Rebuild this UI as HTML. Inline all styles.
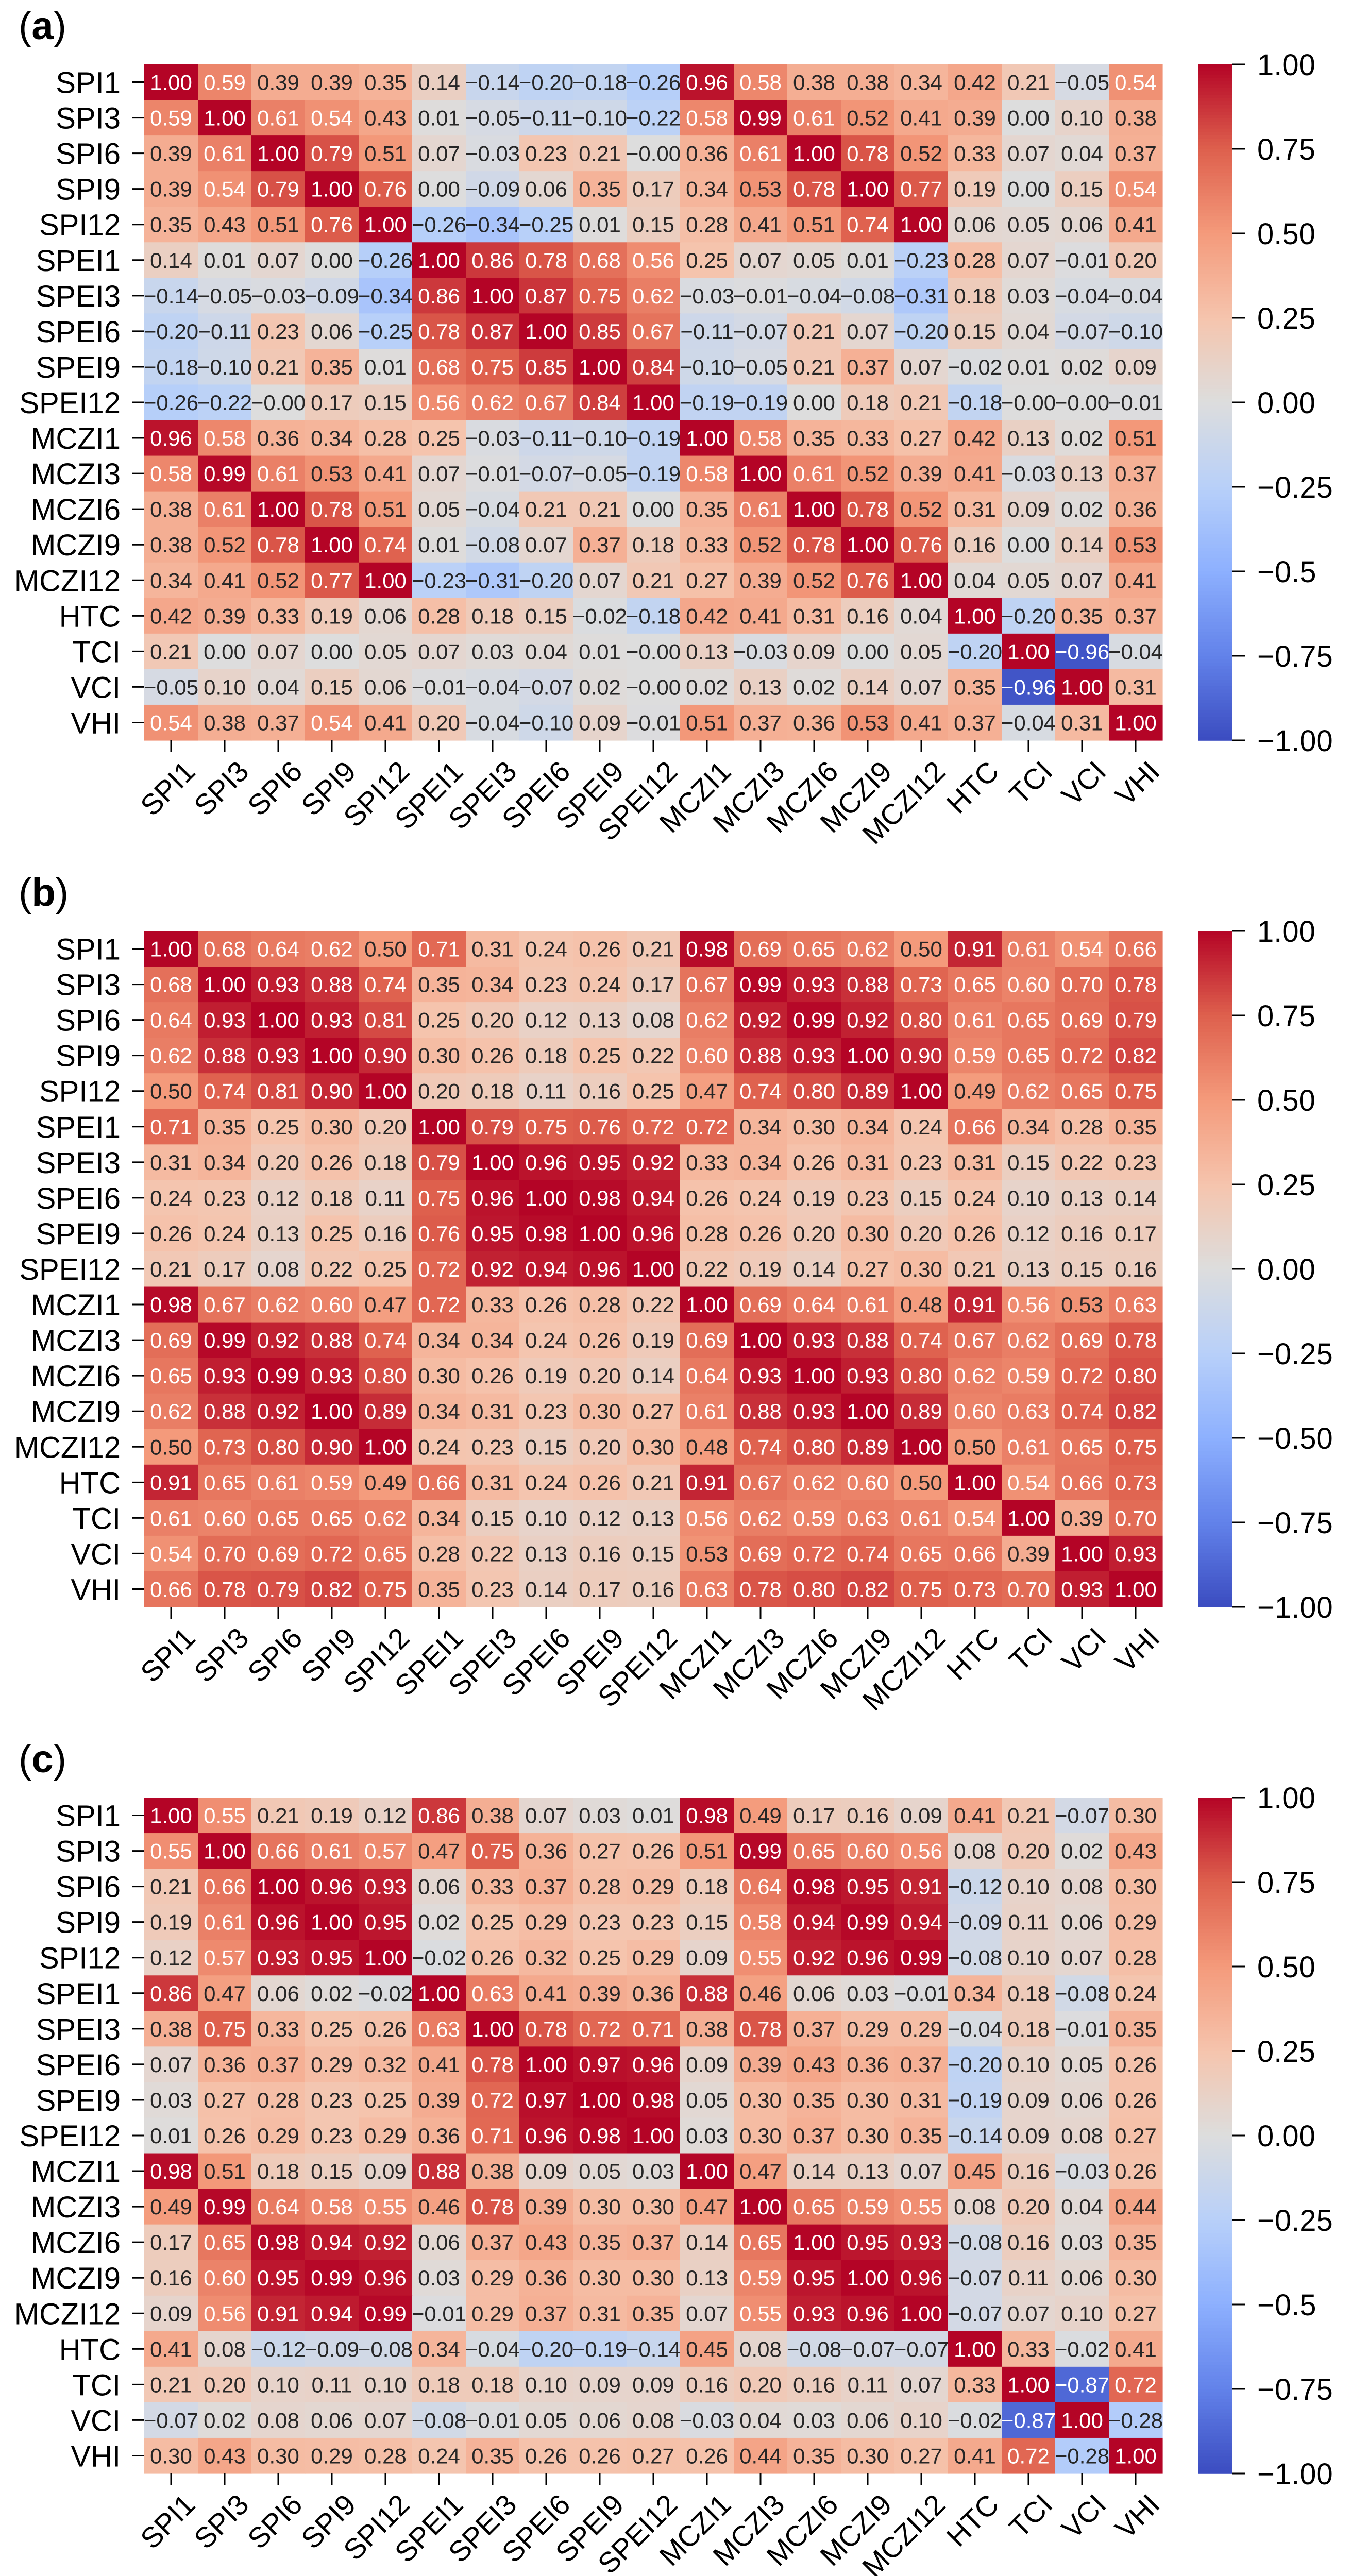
<!DOCTYPE html>
<html><head><meta charset="utf-8"><style>
html,body{margin:0;padding:0;background:#fff;width:2622px;height:5033px;overflow:hidden;}
svg{display:block;overflow:hidden;}
</style></head><body>
<svg id="fig" width="2622" height="5033" viewBox="0 0 2622 5033" xmlns="http://www.w3.org/2000/svg" font-family="'Liberation Sans', sans-serif"></svg>
<script>
const labels = ["SPI1","SPI3","SPI6","SPI9","SPI12","SPEI1","SPEI3","SPEI6","SPEI9","SPEI12","MCZI1","MCZI3","MCZI6","MCZI9","MCZI12","HTC","TCI","VCI","VHI"];
const panelNames = ["a","b","c"];
const cbarTicksA = ["1.00","0.75","0.50","0.25","0.00","\u22120.25","\u22120.5","\u22120.75","\u22121.00"];
const cbarTicksB = ["1.00","0.75","0.50","0.25","0.00","\u22120.25","\u22120.50","\u22120.75","\u22121.00"];
const cbarTicksC = ["1.00","0.75","0.50","0.25","0.00","\u22120.25","\u22120.5","\u22120.75","\u22121.00"];
const cbarValues = [1,0.75,0.5,0.25,0,-0.25,-0.5,-0.75,-1];

const matrixA = [
[1.00,0.59,0.39,0.39,0.35,0.14,-0.14,-0.20,-0.18,-0.26,0.96,0.58,0.38,0.38,0.34,0.42,0.21,-0.05,0.54],
[0.59,1.00,0.61,0.54,0.43,0.01,-0.05,-0.11,-0.10,-0.22,0.58,0.99,0.61,0.52,0.41,0.39,0.00,0.10,0.38],
[0.39,0.61,1.00,0.79,0.51,0.07,-0.03,0.23,0.21,-0.00,0.36,0.61,1.00,0.78,0.52,0.33,0.07,0.04,0.37],
[0.39,0.54,0.79,1.00,0.76,0.00,-0.09,0.06,0.35,0.17,0.34,0.53,0.78,1.00,0.77,0.19,0.00,0.15,0.54],
[0.35,0.43,0.51,0.76,1.00,-0.26,-0.34,-0.25,0.01,0.15,0.28,0.41,0.51,0.74,1.00,0.06,0.05,0.06,0.41],
[0.14,0.01,0.07,0.00,-0.26,1.00,0.86,0.78,0.68,0.56,0.25,0.07,0.05,0.01,-0.23,0.28,0.07,-0.01,0.20],
[-0.14,-0.05,-0.03,-0.09,-0.34,0.86,1.00,0.87,0.75,0.62,-0.03,-0.01,-0.04,-0.08,-0.31,0.18,0.03,-0.04,-0.04],
[-0.20,-0.11,0.23,0.06,-0.25,0.78,0.87,1.00,0.85,0.67,-0.11,-0.07,0.21,0.07,-0.20,0.15,0.04,-0.07,-0.10],
[-0.18,-0.10,0.21,0.35,0.01,0.68,0.75,0.85,1.00,0.84,-0.10,-0.05,0.21,0.37,0.07,-0.02,0.01,0.02,0.09],
[-0.26,-0.22,-0.00,0.17,0.15,0.56,0.62,0.67,0.84,1.00,-0.19,-0.19,0.00,0.18,0.21,-0.18,-0.00,-0.00,-0.01],
[0.96,0.58,0.36,0.34,0.28,0.25,-0.03,-0.11,-0.10,-0.19,1.00,0.58,0.35,0.33,0.27,0.42,0.13,0.02,0.51],
[0.58,0.99,0.61,0.53,0.41,0.07,-0.01,-0.07,-0.05,-0.19,0.58,1.00,0.61,0.52,0.39,0.41,-0.03,0.13,0.37],
[0.38,0.61,1.00,0.78,0.51,0.05,-0.04,0.21,0.21,0.00,0.35,0.61,1.00,0.78,0.52,0.31,0.09,0.02,0.36],
[0.38,0.52,0.78,1.00,0.74,0.01,-0.08,0.07,0.37,0.18,0.33,0.52,0.78,1.00,0.76,0.16,0.00,0.14,0.53],
[0.34,0.41,0.52,0.77,1.00,-0.23,-0.31,-0.20,0.07,0.21,0.27,0.39,0.52,0.76,1.00,0.04,0.05,0.07,0.41],
[0.42,0.39,0.33,0.19,0.06,0.28,0.18,0.15,-0.02,-0.18,0.42,0.41,0.31,0.16,0.04,1.00,-0.20,0.35,0.37],
[0.21,0.00,0.07,0.00,0.05,0.07,0.03,0.04,0.01,-0.00,0.13,-0.03,0.09,0.00,0.05,-0.20,1.00,-0.96,-0.04],
[-0.05,0.10,0.04,0.15,0.06,-0.01,-0.04,-0.07,0.02,-0.00,0.02,0.13,0.02,0.14,0.07,0.35,-0.96,1.00,0.31],
[0.54,0.38,0.37,0.54,0.41,0.20,-0.04,-0.10,0.09,-0.01,0.51,0.37,0.36,0.53,0.41,0.37,-0.04,0.31,1.00]];

const matrixB = [
[1.00,0.68,0.64,0.62,0.50,0.71,0.31,0.24,0.26,0.21,0.98,0.69,0.65,0.62,0.50,0.91,0.61,0.54,0.66],
[0.68,1.00,0.93,0.88,0.74,0.35,0.34,0.23,0.24,0.17,0.67,0.99,0.93,0.88,0.73,0.65,0.60,0.70,0.78],
[0.64,0.93,1.00,0.93,0.81,0.25,0.20,0.12,0.13,0.08,0.62,0.92,0.99,0.92,0.80,0.61,0.65,0.69,0.79],
[0.62,0.88,0.93,1.00,0.90,0.30,0.26,0.18,0.25,0.22,0.60,0.88,0.93,1.00,0.90,0.59,0.65,0.72,0.82],
[0.50,0.74,0.81,0.90,1.00,0.20,0.18,0.11,0.16,0.25,0.47,0.74,0.80,0.89,1.00,0.49,0.62,0.65,0.75],
[0.71,0.35,0.25,0.30,0.20,1.00,0.79,0.75,0.76,0.72,0.72,0.34,0.30,0.34,0.24,0.66,0.34,0.28,0.35],
[0.31,0.34,0.20,0.26,0.18,0.79,1.00,0.96,0.95,0.92,0.33,0.34,0.26,0.31,0.23,0.31,0.15,0.22,0.23],
[0.24,0.23,0.12,0.18,0.11,0.75,0.96,1.00,0.98,0.94,0.26,0.24,0.19,0.23,0.15,0.24,0.10,0.13,0.14],
[0.26,0.24,0.13,0.25,0.16,0.76,0.95,0.98,1.00,0.96,0.28,0.26,0.20,0.30,0.20,0.26,0.12,0.16,0.17],
[0.21,0.17,0.08,0.22,0.25,0.72,0.92,0.94,0.96,1.00,0.22,0.19,0.14,0.27,0.30,0.21,0.13,0.15,0.16],
[0.98,0.67,0.62,0.60,0.47,0.72,0.33,0.26,0.28,0.22,1.00,0.69,0.64,0.61,0.48,0.91,0.56,0.53,0.63],
[0.69,0.99,0.92,0.88,0.74,0.34,0.34,0.24,0.26,0.19,0.69,1.00,0.93,0.88,0.74,0.67,0.62,0.69,0.78],
[0.65,0.93,0.99,0.93,0.80,0.30,0.26,0.19,0.20,0.14,0.64,0.93,1.00,0.93,0.80,0.62,0.59,0.72,0.80],
[0.62,0.88,0.92,1.00,0.89,0.34,0.31,0.23,0.30,0.27,0.61,0.88,0.93,1.00,0.89,0.60,0.63,0.74,0.82],
[0.50,0.73,0.80,0.90,1.00,0.24,0.23,0.15,0.20,0.30,0.48,0.74,0.80,0.89,1.00,0.50,0.61,0.65,0.75],
[0.91,0.65,0.61,0.59,0.49,0.66,0.31,0.24,0.26,0.21,0.91,0.67,0.62,0.60,0.50,1.00,0.54,0.66,0.73],
[0.61,0.60,0.65,0.65,0.62,0.34,0.15,0.10,0.12,0.13,0.56,0.62,0.59,0.63,0.61,0.54,1.00,0.39,0.70],
[0.54,0.70,0.69,0.72,0.65,0.28,0.22,0.13,0.16,0.15,0.53,0.69,0.72,0.74,0.65,0.66,0.39,1.00,0.93],
[0.66,0.78,0.79,0.82,0.75,0.35,0.23,0.14,0.17,0.16,0.63,0.78,0.80,0.82,0.75,0.73,0.70,0.93,1.00]];

const matrixC = [
[1.00,0.55,0.21,0.19,0.12,0.86,0.38,0.07,0.03,0.01,0.98,0.49,0.17,0.16,0.09,0.41,0.21,-0.07,0.30],
[0.55,1.00,0.66,0.61,0.57,0.47,0.75,0.36,0.27,0.26,0.51,0.99,0.65,0.60,0.56,0.08,0.20,0.02,0.43],
[0.21,0.66,1.00,0.96,0.93,0.06,0.33,0.37,0.28,0.29,0.18,0.64,0.98,0.95,0.91,-0.12,0.10,0.08,0.30],
[0.19,0.61,0.96,1.00,0.95,0.02,0.25,0.29,0.23,0.23,0.15,0.58,0.94,0.99,0.94,-0.09,0.11,0.06,0.29],
[0.12,0.57,0.93,0.95,1.00,-0.02,0.26,0.32,0.25,0.29,0.09,0.55,0.92,0.96,0.99,-0.08,0.10,0.07,0.28],
[0.86,0.47,0.06,0.02,-0.02,1.00,0.63,0.41,0.39,0.36,0.88,0.46,0.06,0.03,-0.01,0.34,0.18,-0.08,0.24],
[0.38,0.75,0.33,0.25,0.26,0.63,1.00,0.78,0.72,0.71,0.38,0.78,0.37,0.29,0.29,-0.04,0.18,-0.01,0.35],
[0.07,0.36,0.37,0.29,0.32,0.41,0.78,1.00,0.97,0.96,0.09,0.39,0.43,0.36,0.37,-0.20,0.10,0.05,0.26],
[0.03,0.27,0.28,0.23,0.25,0.39,0.72,0.97,1.00,0.98,0.05,0.30,0.35,0.30,0.31,-0.19,0.09,0.06,0.26],
[0.01,0.26,0.29,0.23,0.29,0.36,0.71,0.96,0.98,1.00,0.03,0.30,0.37,0.30,0.35,-0.14,0.09,0.08,0.27],
[0.98,0.51,0.18,0.15,0.09,0.88,0.38,0.09,0.05,0.03,1.00,0.47,0.14,0.13,0.07,0.45,0.16,-0.03,0.26],
[0.49,0.99,0.64,0.58,0.55,0.46,0.78,0.39,0.30,0.30,0.47,1.00,0.65,0.59,0.55,0.08,0.20,0.04,0.44],
[0.17,0.65,0.98,0.94,0.92,0.06,0.37,0.43,0.35,0.37,0.14,0.65,1.00,0.95,0.93,-0.08,0.16,0.03,0.35],
[0.16,0.60,0.95,0.99,0.96,0.03,0.29,0.36,0.30,0.30,0.13,0.59,0.95,1.00,0.96,-0.07,0.11,0.06,0.30],
[0.09,0.56,0.91,0.94,0.99,-0.01,0.29,0.37,0.31,0.35,0.07,0.55,0.93,0.96,1.00,-0.07,0.07,0.10,0.27],
[0.41,0.08,-0.12,-0.09,-0.08,0.34,-0.04,-0.20,-0.19,-0.14,0.45,0.08,-0.08,-0.07,-0.07,1.00,0.33,-0.02,0.41],
[0.21,0.20,0.10,0.11,0.10,0.18,0.18,0.10,0.09,0.09,0.16,0.20,0.16,0.11,0.07,0.33,1.00,-0.87,0.72],
[-0.07,0.02,0.08,0.06,0.07,-0.08,-0.01,0.05,0.06,0.08,-0.03,0.04,0.03,0.06,0.10,-0.02,-0.87,1.00,-0.28],
[0.30,0.43,0.30,0.29,0.28,0.24,0.35,0.26,0.26,0.27,0.26,0.44,0.35,0.30,0.27,0.41,0.72,-0.28,1.00]];

const NS = "http://www.w3.org/2000/svg";
const svg = document.getElementById("fig");
const stops = [[59,76,192],[98,130,234],[141,176,254],[184,208,249],[221,221,221],[245,196,173],[244,154,123],[222,96,77],[180,4,38]];
function cmap(v){
  let t = (v+1)/2; t = Math.max(0,Math.min(1,t));
  const p = t*(stops.length-1); const i = Math.min(stops.length-2, Math.floor(p)); const f = p-i;
  return stops[i].map((c,k)=>Math.round(c+(stops[i+1][k]-c)*f));
}
function lum(rgb){
  const l = rgb.map(c=>{c/=255; return c<=0.03928? c/12.92 : Math.pow((c+0.055)/1.055,2.4);});
  return 0.2126*l[0]+0.7152*l[1]+0.0722*l[2];
}
function el(tag, attrs, parent){
  const e = document.createElementNS(NS, tag);
  for (const k in attrs) e.setAttribute(k, attrs[k]);
  (parent||svg).appendChild(e); return e;
}
function fmt(v){
  const s = Math.abs(v).toFixed(2);
  return (v<0 || Object.is(v,-0)) ? "\u2212"+s : s;
}
const HX = 280, HW = 1976, HH = 1312;
const cw = HW/labels.length, ch = HH/labels.length;
function xPos(j){ return HX + j*cw; }
function yPos(i, top){ return top + i*ch; }
function cbY(v, top){ return top + (1-v)/2*HH; }

function drawPanel(p, matrix, ticks){
  const top = 125 + p*1682;
  const off = p*1682;
  const g = el("g", {});
  
  
  const lab = el("text", {x:36, y:76+off, "font-size":76}, g);
  
  
  lab.innerHTML = '(<tspan font-weight="bold">' + panelNames[p] + '</tspan>)';
  const hm = el("g", {}, g);
  
  
  for (let i=0;i<labels.length;i++){
    for (let j=0;j<labels.length;j++){
      const v = matrix[i][j];
      const c = cmap(v);
      const r = el("rect", {x:xPos(j).toFixed(2), y:yPos(i,top).toFixed(2), width:(cw+0.6).toFixed(2), height:(ch+0.6).toFixed(2), fill:`rgb(${c.join(",")})`}, hm);
      
      
      const t = el("text", {x:(xPos(j)+cw/2).toFixed(2), y:(yPos(i,top)+ch/2+15).toFixed(2), "text-anchor":"middle", "font-size":42, fill: lum(c)>0.408 ? "#262626" : "#ffffff"}, hm);
      
      
      t.textContent = fmt(v);
    }
  }
  for (let i=0;i<labels.length;i++){
    const cy = yPos(i,top)+ch/2;
    el("line", {x1:257, x2:280, y1:cy, y2:cy, stroke:"#000", "stroke-width":3}, g);
    const t = el("text", {x:234, y:cy+21, "text-anchor":"end", "font-size":58}, g);
    
    
    t.textContent = labels[i];
  }
  const bottom = top + HH;
  for (let j=0;j<labels.length;j++){
    const cx = xPos(j)+cw/2;
    el("line", {x1:cx, x2:cx, y1:bottom, y2:bottom+23, stroke:"#000", "stroke-width":3}, g);
    const ax = cx+50, ay = bottom+64;
    const t = el("text", {x:ax, y:ay, "text-anchor":"end", "font-size":56, transform:`rotate(-45 ${ax} ${ay})`}, g);
    
    
    t.textContent = labels[j];
  }
  const cb = el("g", {}, g);
  
  
  const n = 200;
  for (let k=0;k<n;k++){
    const v = 1 - 2*k/n;
    const c = cmap(v - 1/n);
    el("rect", {x:2326, y:(top + k*HH/n).toFixed(2), width:66, height:(HH/n+0.8).toFixed(2), fill:`rgb(${c.join(",")})`}, cb);
  }
  for (let k=0;k<cbarValues.length;k++){
    const y = cbY(cbarValues[k], top);
    el("line", {x1:2392, x2:2416, y1:y, y2:y, stroke:"#000", "stroke-width":3}, cb);
    const t = el("text", {x:2440, y:y+21, "font-size":58}, cb);
    
    
    t.textContent = ticks[k];
  }
}
drawPanel(0, matrixA, cbarTicksA);
drawPanel(1, matrixB, cbarTicksB);
drawPanel(2, matrixC, cbarTicksC);
</script>
</body></html>
